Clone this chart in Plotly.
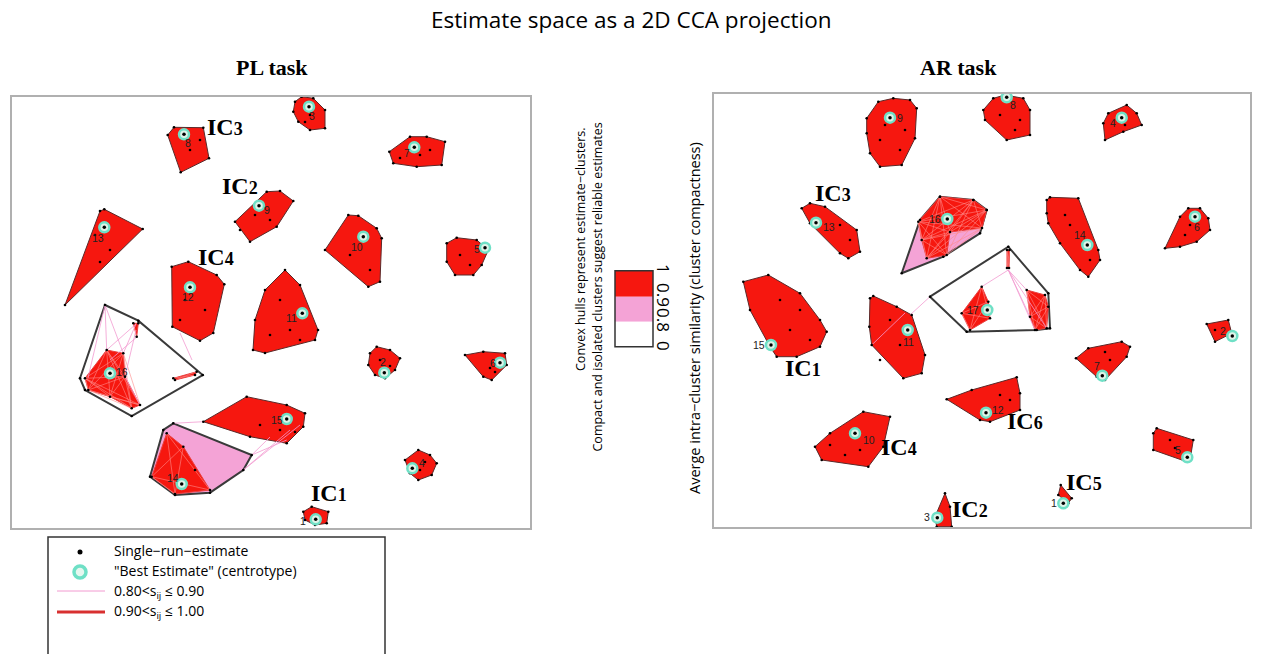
import plotly.graph_objects as go

W, H = 1262, 654
RED = "#f6170f"
PINK = "#f4a3d6"
RING = "#6fe0c6"

# ---------------- PL task (left panel) ----------------
pl_ids = ["8", "13", "12", "9", "3", "7", "10", "5", "11", "2", "6", "15", "14", "16", "4", "1"]
pl_hulls = [
    [(167.7, 135), (174, 127.3), (203.3, 127.7), (209, 158.3), (180.7, 172.3)],
    [(100, 211), (104.3, 209.3), (142.7, 229), (65, 305)],
    [(171.7, 266.7), (188.3, 261.7), (216.7, 275), (224.3, 284.3), (213.3, 333), (200, 340.7), (172.3, 326.7)],
    [(235, 221.7), (266.7, 191.7), (280, 191), (293.3, 201), (276.7, 226.7), (250, 241.7)],
    [(293.3, 111.7), (295, 101.7), (301.7, 96.7), (313.3, 98.3), (325, 110), (325, 128.3), (310, 130), (298.3, 121.7)],
    [(389.3, 151.7), (410, 136.7), (426.7, 136.7), (445, 141.7), (441.7, 165), (416.7, 166.7), (393.3, 163.3)],
    [(325, 250), (348.3, 215), (358.3, 215.7), (376.7, 228.3), (381.7, 238.3), (380, 281.7), (368.3, 286.7)],
    [(446.7, 243.3), (456.7, 237.7), (476.7, 240), (488.3, 250), (481.7, 265), (473.3, 275), (455, 275), (446.7, 261.7)],
    [(285, 270), (300, 285), (318, 330), (315, 340), (265, 353), (253, 350), (255, 320), (265, 290)],
    [(368.3, 365), (370, 353.3), (376.7, 346.7), (390, 350), (400, 358.3), (395, 370), (385, 378.3), (375, 375)],
    [(465, 355), (483.3, 351.7), (505, 353.3), (506.7, 365), (491.7, 380), (483.3, 376.7)],
    [(203.3, 421.7), (246.7, 396.7), (286.7, 405), (305, 413.3), (303.3, 426.7), (286.7, 443.3), (250, 436.7)],
    [(150, 476.7), (163.3, 430), (173.3, 423.3), (251.7, 455), (243.3, 470), (210, 492.7), (175, 495)],
    [(80, 378.3), (105, 305), (138.3, 320.7), (202.7, 375), (131.7, 416), (85, 390)],
    [(405, 460), (418.3, 450), (430, 455), (436.7, 463.3), (431.7, 475), (418.3, 480), (410, 473.3)],
    [(303.3, 511.7), (311.7, 506.7), (328.3, 511.7), (326.7, 523.3), (315, 525), (305, 520)],
]
pl_fill = [RED] * 12 + [PINK, "white", RED, RED]
pl_centers = [(184, 134.3), (104.3, 227.3), (190, 287.3), (259, 205.7), (309, 106.7), (414.3, 147.3),
              (363.3, 236.7), (485, 247.7), (302.3, 313.3), (384.3, 372.7), (500, 362.7), (286.7, 419),
              (181.7, 484), (110, 373.3), (412.3, 468.3), (315.7, 519.3)]
pl_labels = [(188.3, 143.3), (98.3, 238.3), (188.3, 297), (266.7, 210), (312, 116), (406.7, 153),
             (356.7, 247), (476.7, 249), (291.7, 318.3), (383.3, 361.7), (492.7, 363), (276.7, 420),
             (173.3, 478.3), (122, 371.7), (421.7, 463.3), (302.7, 521)]
pl_inner_x = [190, 200, 95, 110, 100, 185, 205, 180, 255, 270, 240, 310, 305, 420, 430, 400, 350, 370, 360,
              460, 470, 280, 290, 300, 270, 380, 390, 490, 495, 260, 280, 295, 195, 420, 425, 315]
pl_inner_y = [150, 140, 235, 250, 262, 300, 310, 320, 215, 220, 230, 115, 122, 155, 150, 158, 255, 270, 240,
              255, 265, 300, 330, 340, 335, 360, 366, 368, 372, 425, 430, 432, 470, 470, 462, 515]
pl_sub_red = [
    [(151.7, 476.7), (166.7, 433.3), (183.3, 446.7), (210, 490), (175, 494)],
    [(85, 378.3), (106.7, 350), (123.3, 353.3), (125, 376.7), (140, 405), (131.7, 408.3), (110, 396.7), (88.3, 390)],
    [(133.3, 323.3), (138.3, 323.3), (136.7, 336.7)],
    [(173.3, 378.3), (196.7, 371.7), (195, 375), (175, 380)],
]
pl_pink_edges = [
    ((105, 305), (123.3, 353.3)), ((105, 305), (106.7, 350)), ((105, 305), (88, 378)),
    ((136, 324), (123.3, 353.3)), ((136, 324), (106.7, 350)), ((136, 330), (125, 376.7)),
    ((138, 336), (110, 360)), ((180, 333), (192, 360)), ((125, 376.7), (140, 405)),
    ((251.7, 455), (286.7, 440)), ((243.3, 470), (290, 430)), ((243.3, 470), (300, 425)),
    ((251.7, 455), (270, 437)), ((173.3, 423.3), (203.3, 421.7)),
]
pl_ic = ["3", "2", "4", "1"]
pl_ic_pos = [(225, 127), (240, 186), (216, 257), (329, 493)]

# ---------------- AR task (right panel) ----------------
ar_ids = ["9", "13", "16", "8", "4", "14", "6", "17", "11", "15", "10", "3", "12", "7", "2", "5", "1"]
ar_hulls = [
    [(866.7, 118.3), (878.3, 101.7), (893.3, 98.3), (910, 100), (916.7, 108.3), (915, 138.3), (901.7, 165), (880, 166.7), (870, 153.3), (866.7, 133.3)],
    [(801.7, 208.3), (810, 203.3), (825, 206.7), (856.7, 230), (860, 251.7), (848.3, 258.3), (840, 253.3), (810, 223.3)],
    [(901.7, 273.3), (920, 220), (940, 196.7), (973.3, 200), (986.7, 210), (980, 233.3), (943.3, 256.7)],
    [(983.3, 110), (993.3, 98.3), (1005, 95), (1023.3, 98.3), (1030, 110), (1030, 135), (1006.7, 140), (985, 120)],
    [(1103.3, 123.3), (1108.3, 113.3), (1126.7, 105), (1136.7, 113.3), (1141.7, 125), (1123.3, 131.7), (1105, 140)],
    [(1046.7, 200), (1050, 197.3), (1078.3, 198.3), (1098.3, 250), (1100, 260), (1088.3, 276.7), (1080, 270), (1060, 243.3), (1048.3, 223.3), (1046.7, 213.3)],
    [(1165, 248.3), (1180, 216.7), (1188.3, 208.3), (1200, 208.3), (1208.3, 218.3), (1210, 230), (1196.7, 241.7), (1180, 246.7)],
    [(930, 296.7), (1008.3, 246.7), (1048.3, 293.3), (1050, 328.3), (1036.7, 330), (966.7, 331.7)],
    [(870, 298.3), (873.3, 296), (896.7, 306.7), (911.7, 315), (925, 355), (921.7, 373.3), (903.3, 378.3), (871.7, 345), (869.3, 326.7)],
    [(743.3, 281.7), (768.3, 275), (800, 293.3), (820, 320), (826.7, 331.7), (820, 346.7), (796.7, 356.7), (776.7, 356.7), (770, 346.7), (750, 310)],
    [(815, 446.7), (830, 433.3), (863.3, 411.7), (890, 416.7), (883.3, 446.7), (868.3, 466.7), (821.7, 460)],
    [(935, 516.7), (945, 493.3), (950, 506.7), (951.7, 526.7), (936.7, 526.7)],
    [(946.7, 399.3), (971.7, 390), (1016.7, 377.3), (1020, 393.3), (1020, 410), (990, 421.7), (980, 420)],
    [(1076, 358.3), (1088.3, 348.3), (1121.7, 341.7), (1130, 346.7), (1126.7, 356.7), (1105, 380), (1096.7, 376.7)],
    [(1206.7, 324), (1228.3, 320), (1231.7, 333.3), (1215, 341.7)],
    [(1153.3, 433.3), (1156.7, 428.3), (1193.3, 440), (1190, 460), (1186.7, 461.7), (1153.3, 450)],
    [(1058.3, 495), (1060.7, 485), (1071.7, 498.3), (1068.3, 503.3)],
]
ar_fill = [RED, RED, PINK, RED, RED, RED, RED, "white"] + [RED] * 9
ar_centers = [(890, 117.7), (816, 222.7), (947.3, 219), (1006.7, 97.3), (1121.7, 117.7), (1087.3, 245),
              (1195, 216.7), (987.3, 310), (907.7, 330), (771, 345), (855, 433.3), (937.3, 517.7),
              (986, 412.7), (1102.3, 375.7), (1232.3, 336), (1187.3, 457.3), (1063.3, 503.3)]
ar_labels = [(900, 118), (829, 227), (935, 219.3), (1013.3, 105), (1113.3, 123.3), (1080, 235),
             (1196.7, 226.7), (973.3, 310), (908.3, 341.7), (759.3, 345), (869.3, 440), (927.3, 517.3),
             (998.3, 410), (1096.7, 366), (1222.7, 330.7), (1178.3, 450), (1054, 503.3)]
ar_inner_x = [885, 880, 900, 905, 1000, 1020, 1015, 1125, 1065, 1070, 1090, 1190, 1185, 890, 900, 880, 780,
              800, 790, 810, 840, 850, 860, 1000, 1010, 1110, 1105, 1170, 1175, 830, 845, 1215]
ar_inner_y = [125, 140, 150, 130, 115, 120, 130, 125, 215, 225, 260, 225, 235, 320, 345, 360, 300,
              310, 330, 340, 225, 240, 450, 395, 400, 360, 352, 440, 448, 445, 455, 330]
ar_sub_red = [
    [(918.3, 221.7), (940, 196.7), (973.3, 200), (986.7, 210), (982, 228), (950, 232), (946.7, 255), (926.7, 258.3), (921.7, 240)],
    [(961.7, 313.3), (981.7, 286.7), (988.3, 301.7), (990, 318.3), (970, 330)],
    [(1026.7, 290), (1045, 295), (1048.3, 306.7), (1046.7, 328.3), (1035, 330), (1030, 316.7)],
    [(1007, 250), (1009.5, 250), (1009, 268), (1007, 268)],
]
ar_pink_edges = [
    ((1008.3, 270), (1026.7, 290)), ((1008.3, 270), (1035, 330)), ((1008.3, 270), (1046.7, 328.3)),
    ((1008.3, 270), (1030, 316.7)), ((1008.3, 270), (981.7, 286.7)), ((930, 296.7), (910, 315)),
    ((871.7, 345), (905, 313)),
]
ar_ic = ["3", "1", "4", "2", "6", "5"]
ar_ic_pos = [(833, 193), (803, 368), (899, 447), (970, 509), (1025, 421), (1084, 482)]

# ---------------- legend & colour key ----------------
legend_labels = ["Single−run−estimate", "\"Best Estimate\" (centrotype)",
                 "0.80<s<sub>ij</sub> ≤ 0.90", "0.90<s<sub>ij</sub> ≤ 1.00"]
key_tick_text = ["1", "0.9", "0.8", "0"]
key_colors = [RED, PINK, "white"]

fig = go.Figure()

PANELS = [
    dict(xa="x", ya="y", ids=pl_ids, hulls=pl_hulls, fill=pl_fill, centers=pl_centers, labels=pl_labels,
         sub=pl_sub_red, edges=pl_pink_edges, ic=pl_ic, icpos=pl_ic_pos, ix=pl_inner_x, iy=pl_inner_y),
    dict(xa="x2", ya="y2", ids=ar_ids, hulls=ar_hulls, fill=ar_fill, centers=ar_centers, labels=ar_labels,
         sub=ar_sub_red, edges=ar_pink_edges, ic=ar_ic, icpos=ar_ic_pos, ix=ar_inner_x, iy=ar_inner_y),
]

annotations = []
for P in PANELS:
    xa, ya = P["xa"], P["ya"]
    for hull, fc in zip(P["hulls"], P["fill"]):
        xs = [p[0] for p in hull] + [hull[0][0]]
        ys = [p[1] for p in hull] + [hull[0][1]]
        thick = fc != RED
        fig.add_trace(go.Scatter(x=xs, y=ys, xaxis=xa, yaxis=ya, mode="lines", fill="toself",
                                 fillcolor=fc, line=dict(color="#3a3a3a" if thick else "#5a2a2a",
                                                         width=2 if thick else 1),
                                 hoverinfo="skip", showlegend=False))
    for sub in P["sub"]:
        xs = [p[0] for p in sub] + [sub[0][0]]
        ys = [p[1] for p in sub] + [sub[0][1]]
        fig.add_trace(go.Scatter(x=xs, y=ys, xaxis=xa, yaxis=ya, mode="lines", fill="toself",
                                 fillcolor=RED, line=dict(color="#e84040", width=1),
                                 hoverinfo="skip", showlegend=False))
        mx, my = [], []
        for i in range(len(sub)):
            for j in range(i + 2, len(sub)):
                mx += [sub[i][0], sub[j][0], None]
                my += [sub[i][1], sub[j][1], None]
        fig.add_trace(go.Scatter(x=mx, y=my, xaxis=xa, yaxis=ya, mode="lines",
                                 line=dict(color="#ff8a8a", width=0.6), hoverinfo="skip", showlegend=False))
    ex, ey = [], []
    for a, b in P["edges"]:
        ex += [a[0], b[0], None]
        ey += [a[1], b[1], None]
    fig.add_trace(go.Scatter(x=ex, y=ey, xaxis=xa, yaxis=ya, mode="lines",
                             line=dict(color="#f29ad0", width=0.8), hoverinfo="skip", showlegend=False))
    dx = [p[0] for h in P["hulls"] + P["sub"] for p in h] + P["ix"]
    dy = [p[1] for h in P["hulls"] + P["sub"] for p in h] + P["iy"]
    fig.add_trace(go.Scatter(x=dx, y=dy, xaxis=xa, yaxis=ya, mode="markers",
                             marker=dict(color="black", size=2.6), hoverinfo="skip", showlegend=False))
    cx = [c[0] for c in P["centers"]]
    cy = [c[1] for c in P["centers"]]
    fig.add_trace(go.Scatter(x=cx, y=cy, xaxis=xa, yaxis=ya, mode="markers",
                             marker=dict(color="#dff3e8", size=10, line=dict(color=RING, width=2.5)),
                             hoverinfo="skip", showlegend=False))
    fig.add_trace(go.Scatter(x=cx, y=cy, xaxis=xa, yaxis=ya, mode="markers",
                             marker=dict(color="black", size=3.5), hoverinfo="skip", showlegend=False))
    for lid, (lx, ly) in zip(P["ids"], P["labels"]):
        annotations.append(dict(x=lx, y=ly, xref=xa, yref=ya, text=lid, showarrow=False,
                                font=dict(size=10.5, color="#222", family="Liberation Sans")))
    for t, (lx, ly) in zip(P["ic"], P["icpos"]):
        annotations.append(dict(x=lx, y=ly, xref=xa, yref=ya,
                                text="<b>IC<span style='font-size:18px'>" + t + "</span></b>",
                                showarrow=False,
                                font=dict(size=24, color="black", family="Liberation Serif")))

# colour key (page-pixel overlay axis)
key_x0, key_x1 = 615, 653
key_y = [270.7, 296.7, 321.7, 346.7]
shapes = []
for i, col in enumerate(key_colors):
    shapes.append(dict(type="rect", xref="x3", yref="y3", x0=key_x0, x1=key_x1, y0=key_y[i], y1=key_y[i + 1],
                       fillcolor=col, line=dict(width=0)))
shapes.append(dict(type="rect", xref="x3", yref="y3", x0=key_x0, x1=key_x1, y0=key_y[0], y1=key_y[-1],
                   line=dict(color="#333", width=1.5), fillcolor="rgba(0,0,0,0)"))
for txt, yy in zip(key_tick_text, [269, 295, 320, 346]):
    annotations.append(dict(x=664, y=yy, xref="x3", yref="y3", text=txt, showarrow=False, textangle=90,
                            font=dict(size=17, color="black", family="Open Sans")))

# legend box
shapes.append(dict(type="rect", xref="x3", yref="y3", x0=48, x1=385, y0=537, y1=670,
                   line=dict(color="#333", width=1.5), fillcolor="rgba(0,0,0,0)"))
fig.add_trace(go.Scatter(x=[80], y=[552], xaxis="x3", yaxis="y3", mode="markers",
                         marker=dict(color="black", size=5), hoverinfo="skip", showlegend=False))
fig.add_trace(go.Scatter(x=[80], y=[572], xaxis="x3", yaxis="y3", mode="markers",
                         marker=dict(color="#e6f7ef", size=12, line=dict(color=RING, width=3.5)),
                         hoverinfo="skip", showlegend=False))
fig.add_trace(go.Scatter(x=[57, 105], y=[591, 591], xaxis="x3", yaxis="y3", mode="lines",
                         line=dict(color="#f29ad0", width=1), hoverinfo="skip", showlegend=False))
fig.add_trace(go.Scatter(x=[57, 105], y=[612, 612], xaxis="x3", yaxis="y3", mode="lines",
                         line=dict(color="#d83030", width=3), hoverinfo="skip", showlegend=False))
for txt, yy in zip(legend_labels, [550, 570, 591, 611]):
    annotations.append(dict(x=112, y=yy, xref="x3", yref="y3", text=txt, showarrow=False, xanchor="left",
                            font=dict(size=14, color="black", family="Open Sans")))

annotations += [
    dict(x=631, y=19, xref="x3", yref="y3", text="Estimate space as a 2D CCA projection", showarrow=False,
         font=dict(size=22.5, color="black", family="Open Sans")),
    dict(x=272, y=67, xref="x3", yref="y3", text="<b>PL task</b>", showarrow=False,
         font=dict(size=22, color="black", family="Liberation Serif")),
    dict(x=958, y=67, xref="x3", yref="y3", text="<b>AR task</b>", showarrow=False,
         font=dict(size=22, color="black", family="Liberation Serif")),
    dict(x=580, y=125, xref="x3", yref="y3", textangle=-90, showarrow=False, yanchor="top",
         text="Convex hulls represent estimate−clusters.",
         font=dict(size=12.5, color="black", family="Open Sans")),
    dict(x=597, y=121, xref="x3", yref="y3", textangle=-90, showarrow=False, yanchor="top",
         text="Compact and isolated clusters suggest reliable estimates",
         font=dict(size=12.5, color="black", family="Open Sans")),
    dict(x=694, y=318, xref="x3", yref="y3", textangle=-90, showarrow=False,
         text="Averge intra−cluster similarity (cluster compactness)",
         font=dict(size=14.5, color="black", family="Open Sans")),
]

ax_common = dict(showgrid=False, zeroline=False, showticklabels=False, ticks="",
                 showline=True, mirror=True, linecolor="#b0b0b0", linewidth=1.5)
fig.update_layout(
    width=W, height=H, margin=dict(l=0, r=0, t=0, b=0),
    plot_bgcolor="rgba(0,0,0,0)", paper_bgcolor="white", showlegend=False,
    xaxis=dict(domain=[12 / W, 530 / W], range=[12, 530], anchor="y", **ax_common),
    yaxis=dict(domain=[1 - 528 / H, 1 - 97 / H], range=[528, 97], anchor="x", **ax_common),
    xaxis2=dict(domain=[714 / W, 1250 / W], range=[714, 1250], anchor="y2", **ax_common),
    yaxis2=dict(domain=[1 - 527 / H, 1 - 94 / H], range=[527, 94], anchor="x2", **ax_common),
    xaxis3=dict(domain=[0, 1], range=[0, W], anchor="y3", visible=False),
    yaxis3=dict(domain=[0, 1], range=[H, 0], anchor="x3", visible=False),
    shapes=shapes, annotations=annotations,
)
fig.write_html("out.html", config={"displayModeBar": False},
               post_script="document.body.style.margin='0px';document.body.style.overflow='hidden';")
